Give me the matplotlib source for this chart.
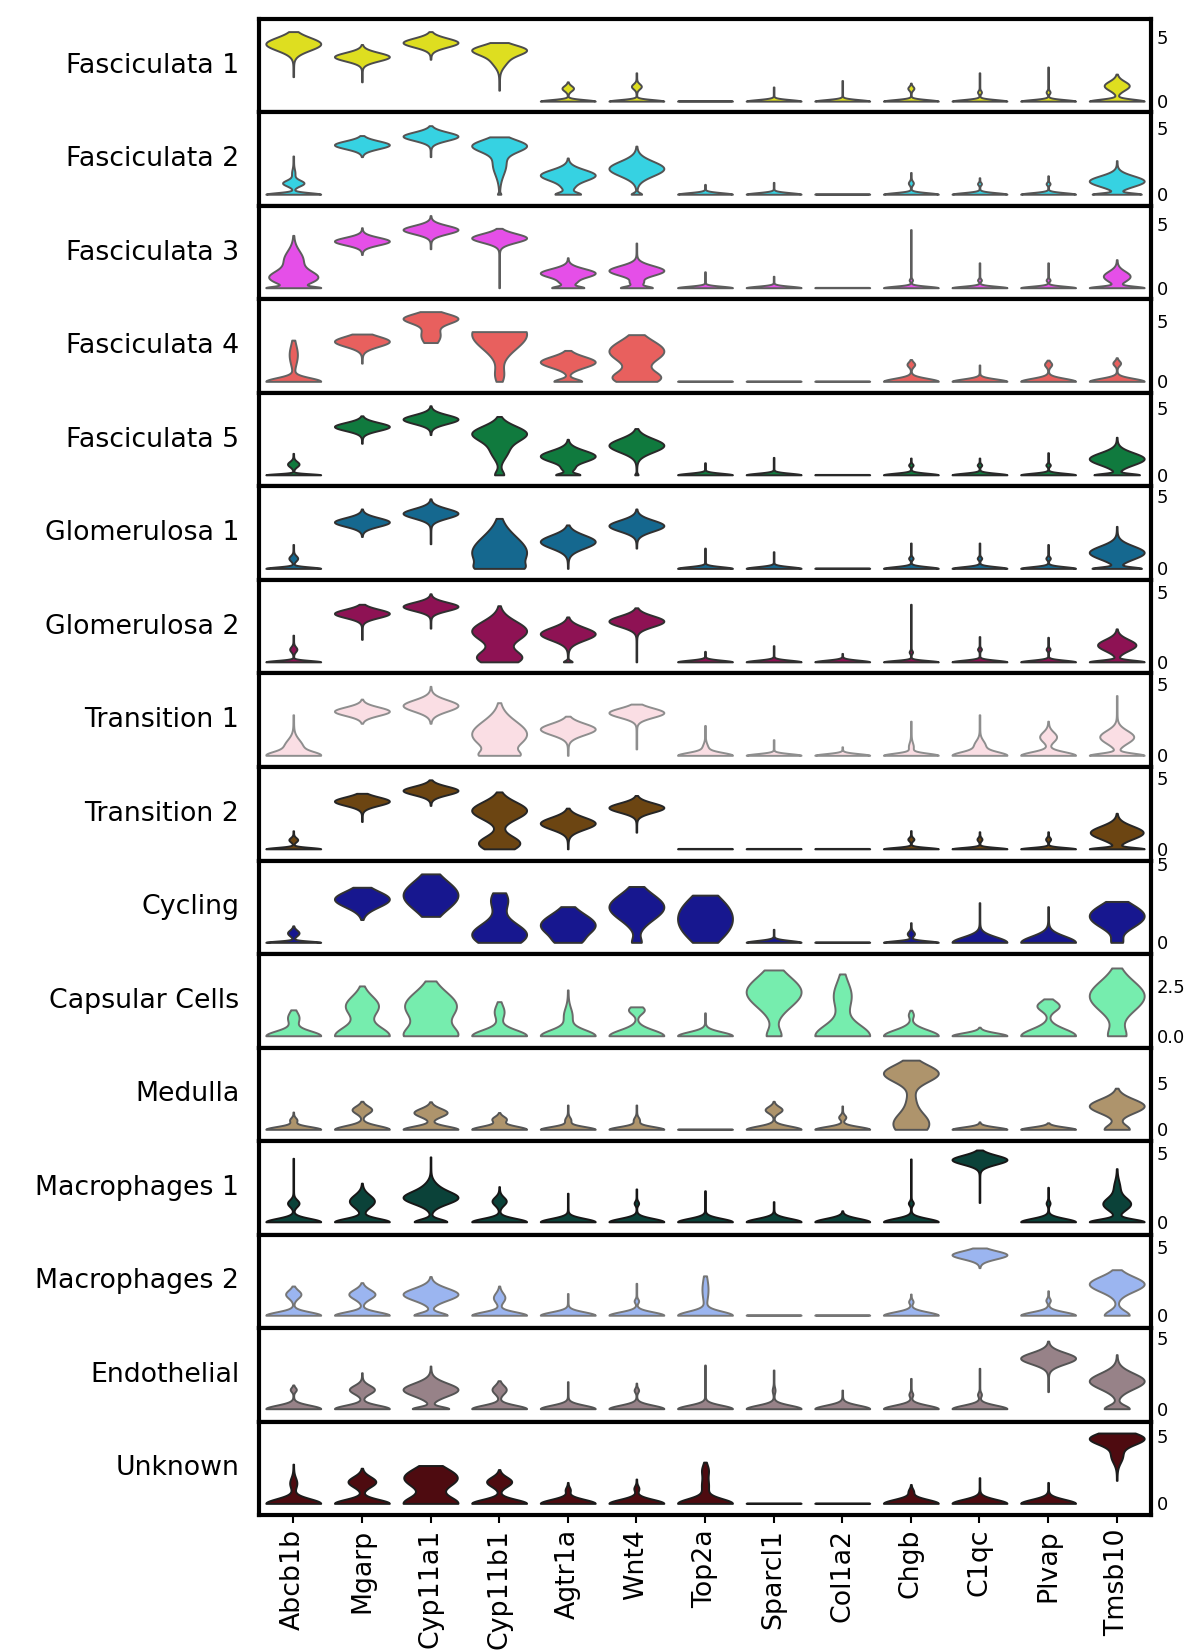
import colorsys
import numpy as np
import matplotlib
matplotlib.use("Agg")
import matplotlib.pyplot as plt
import matplotlib.colors as mcolors

genes = ["Abcb1b", "Mgarp", "Cyp11a1", "Cyp11b1", "Agtr1a", "Wnt4", "Top2a",
         "Sparcl1", "Col1a2", "Chgb", "C1qc", "Plvap", "Tmsb10"]

cell_types = ["Fasciculata 1", "Fasciculata 2", "Fasciculata 3", "Fasciculata 4",
              "Fasciculata 5", "Glomerulosa 1", "Glomerulosa 2", "Transition 1",
              "Transition 2", "Cycling", "Capsular Cells", "Medulla",
              "Macrophages 1", "Macrophages 2", "Endothelial", "Unknown"]

row_colors = ["#dede20", "#36d2e2", "#e54fe8", "#e8605e", "#107a3e", "#15688f",
              "#8e1254", "#fadee4", "#6c4512", "#17178f", "#76edae", "#ae946c",
              "#0b4239", "#9bb5f0", "#978288", "#4e0b10"]

# each violin: (min, max, [(mode, spread, weight), ...])
FLAT = (0, 0.03, [(0, 0.12, 1)])

fasc1 = [(1.9, 5.4, [(4.45, 0.5, 1)]),
         (1.5, 4.4, [(3.45, 0.33, 1)]),
         (3.25, 5.4, [(4.55, 0.35, 1)]),
         (0.85, 4.55, [(4.0, 0.38, 1), (3.2, 0.5, 0.3)]),
         (0, 1.5, [(0, 0.12, 1), (1.0, 0.2, 0.2)]),
         (0, 2.2, [(0, 0.12, 1), (1.15, 0.2, 0.17)]),
         FLAT,
         (0, 1.1, [(0, 0.12, 1)]),
         (0, 1.6, [(0, 0.12, 1)]),
         (0, 1.4, [(0, 0.12, 1), (1.0, 0.15, 0.1)]),
         (0, 2.2, [(0, 0.12, 1), (0.7, 0.12, 0.06)]),
         (0, 2.65, [(0, 0.12, 1), (0.7, 0.12, 0.06)]),
         (0, 2.1, [(0, 0.15, 1), (1.2, 0.35, 0.45)])]

fasc2 = [(0, 2.9, [(0, 0.12, 1), (0.85, 0.22, 0.38), (1.6, 0.3, 0.05)]),
         (2.85, 4.45, [(3.75, 0.3, 1)]),
         (2.85, 5.2, [(4.4, 0.32, 1)]),
         (0, 4.35, [(3.7, 0.45, 1), (2.3, 0.8, 0.25), (0, 0.1, 0.05)]),
         (0, 2.75, [(1.45, 0.42, 1), (0, 0.15, 0.42), (0.5, 0.3, 0.15)]),
         (0, 3.65, [(1.95, 0.55, 1), (0, 0.12, 0.18)]),
         (0, 0.75, [(0, 0.12, 1)]),
         (0, 0.9, [(0, 0.12, 1)]),
         FLAT,
         (0, 1.65, [(0, 0.12, 1), (0.85, 0.15, 0.08)]),
         (0, 1.25, [(0, 0.12, 1), (0.8, 0.1, 0.06)]),
         (0, 1.4, [(0, 0.12, 1), (0.8, 0.1, 0.06)]),
         (0, 2.55, [(1.0, 0.4, 1), (0, 0.1, 0.85)])]

fasc3 = [(0, 4.1, [(0.8, 0.5, 1), (2.2, 0.7, 0.4), (0, 0.1, 0.9)]),
         (2.6, 4.7, [(3.65, 0.3, 1)]),
         (3.05, 5.65, [(4.55, 0.33, 1)]),
         (0, 4.65, [(3.9, 0.35, 1)]),
         (0, 2.35, [(1.15, 0.35, 1), (0, 0.12, 0.55), (0.4, 0.2, 0.2)]),
         (0, 3.5, [(1.35, 0.38, 1), (0, 0.12, 0.55), (0.4, 0.2, 0.2)]),
         (0, 1.25, [(0, 0.12, 1)]),
         (0, 0.9, [(0, 0.12, 1)]),
         FLAT,
         (0, 4.55, [(0, 0.12, 1), (0.6, 0.1, 0.05)]),
         (0, 1.95, [(0, 0.12, 1), (0.6, 0.1, 0.06)]),
         (0, 1.95, [(0, 0.12, 1), (0.6, 0.1, 0.06)]),
         (0, 2.2, [(0.9, 0.4, 0.5), (0, 0.12, 1)])]

fasc4 = [(0, 3.4, [(0, 0.3, 1), (2.2, 0.8, 0.14)]),
         (1.5, 3.9, [(3.3, 0.42, 1)]),
         (3.2, 5.75, [(5.2, 0.4, 1), (3.8, 0.7, 0.36)]),
         (0, 4.1, [(3.9, 1.2, 1), (0.5, 0.6, 0.14)]),
         (0, 2.55, [(1.6, 0.45, 1), (0, 0.2, 0.5)]),
         (0, 3.85, [(2.5, 0.85, 1), (0.3, 0.55, 0.85)]),
         FLAT, FLAT, FLAT,
         (0, 1.8, [(0, 0.25, 1), (1.4, 0.2, 0.13)]),
         (0, 1.35, [(0, 0.2, 1)]),
         (0, 1.75, [(0, 0.25, 1), (1.4, 0.2, 0.12)]),
         (0, 1.95, [(0, 0.25, 1), (1.5, 0.2, 0.13)])]

fasc5 = [(0, 1.6, [(0, 0.08, 1), (0.8, 0.2, 0.2)]),
         (2.35, 4.4, [(3.6, 0.3, 1)]),
         (3.0, 5.15, [(4.15, 0.33, 1)]),
         (0, 4.35, [(3.1, 0.55, 1), (1.8, 0.6, 0.3), (0, 0.3, 0.16)]),
         (0, 2.65, [(1.4, 0.42, 1), (0, 0.12, 0.42), (0.45, 0.2, 0.15)]),
         (0, 3.45, [(2.2, 0.5, 1), (0, 0.1, 0.05)]),
         (0, 0.9, [(0, 0.12, 1)]),
         (0, 1.3, [(0, 0.12, 1)]),
         FLAT,
         (0, 1.25, [(0, 0.12, 1), (0.73, 0.1, 0.07)]),
         (0, 1.25, [(0, 0.12, 1), (0.73, 0.1, 0.07)]),
         (0, 1.65, [(0, 0.12, 1), (0.73, 0.1, 0.07)]),
         (0, 2.8, [(1.2, 0.45, 1), (0, 0.1, 0.8)])]

glom1 = [(0, 1.65, [(0, 0.1, 1), (0.7, 0.18, 0.15)]),
         (2.2, 4.1, [(3.2, 0.3, 1)]),
         (1.7, 4.8, [(3.8, 0.33, 1)]),
         (0, 3.45, [(1.1, 1.1, 1), (0, 0.3, 0.3)]),
         (0, 3.0, [(1.85, 0.45, 1)]),
         (1.4, 4.1, [(2.95, 0.38, 1)]),
         (0, 1.4, [(0, 0.12, 1)]),
         (0, 1.15, [(0, 0.12, 1)]),
         FLAT,
         (0, 1.75, [(0, 0.12, 1), (0.7, 0.1, 0.07)]),
         (0, 1.75, [(0, 0.12, 1), (0.7, 0.1, 0.07)]),
         (0, 1.65, [(0, 0.12, 1), (0.7, 0.1, 0.07)]),
         (0, 2.9, [(1.1, 0.45, 1), (0, 0.1, 0.85)])]

glom2 = [(0, 1.9, [(0, 0.1, 1), (0.9, 0.18, 0.12)]),
         (1.6, 4.1, [(3.45, 0.3, 1)]),
         (2.4, 4.85, [(3.95, 0.3, 1)]),
         (0, 4.0, [(2.2, 0.7, 1), (0.3, 0.5, 0.8)]),
         (0, 3.2, [(2.0, 0.45, 1), (0, 0.1, 0.15)]),
         (0, 3.85, [(2.9, 0.38, 1)]),
         (0, 0.75, [(0, 0.12, 1)]),
         (0, 1.15, [(0, 0.12, 1)]),
         (0, 0.6, [(0, 0.12, 1)]),
         (0, 4.1, [(0, 0.1, 1), (0.7, 0.1, 0.05)]),
         (0, 1.8, [(0, 0.12, 1), (0.9, 0.1, 0.06)]),
         (0, 1.75, [(0, 0.12, 1), (0.9, 0.1, 0.06)]),
         (0, 2.35, [(1.2, 0.4, 0.7), (0, 0.12, 1)])]

trans1 = [(0, 2.85, [(0, 0.25, 1), (0.6, 0.5, 0.4)]),
          (2.25, 3.95, [(3.1, 0.3, 1)]),
          (2.25, 4.85, [(3.5, 0.4, 1)]),
          (0, 3.7, [(1.5, 0.9, 1), (0, 0.3, 0.5)]),
          (0, 2.75, [(1.85, 0.4, 1)]),
          (0.45, 3.6, [(3.0, 0.33, 1)]),
          (0, 2.1, [(0, 0.2, 1), (0.5, 0.3, 0.1)]),
          (0, 1.1, [(0, 0.12, 1)]),
          (0, 0.6, [(0, 0.12, 1)]),
          (0, 2.4, [(0, 0.15, 1), (0.6, 0.3, 0.08)]),
          (0, 2.85, [(0, 0.25, 1), (0.7, 0.35, 0.2)]),
          (0, 2.4, [(0, 0.25, 1), (1.3, 0.35, 0.3)]),
          (0, 4.2, [(0, 0.15, 1), (1.3, 0.45, 0.62)])]

trans2 = [(0, 1.27, [(0, 0.1, 1), (0.64, 0.15, 0.15)]),
          (1.92, 3.9, [(3.35, 0.3, 1)]),
          (3.05, 4.85, [(4.1, 0.3, 1)]),
          (0, 4.0, [(2.7, 0.6, 1), (0.4, 0.5, 0.75)]),
          (0, 2.86, [(1.8, 0.42, 1)]),
          (1.17, 3.75, [(2.9, 0.33, 1)]),
          FLAT, FLAT, FLAT,
          (0, 1.28, [(0, 0.1, 1), (0.68, 0.12, 0.1)]),
          (0, 1.2, [(0, 0.1, 1), (0.68, 0.12, 0.08)]),
          (0, 1.2, [(0, 0.1, 1), (0.68, 0.12, 0.08)]),
          (0, 2.5, [(1.15, 0.45, 0.9), (0, 0.1, 0.9)])]

cycling = [(0, 1.05, [(0, 0.08, 1), (0.6, 0.18, 0.2)]),
           (1.45, 3.5, [(2.75, 0.5, 1)]),
           (1.65, 4.35, [(3.0, 0.9, 1)]),
           (0, 3.15, [(0.5, 0.7, 1), (2.7, 0.6, 0.3)]),
           (0, 2.27, [(1.1, 0.7, 1), (0, 0.3, 0.2)]),
           (0, 3.55, [(2.25, 0.8, 1), (0, 0.3, 0.15)]),
           (0, 3.0, [(0.6, 0.8, 1), (1.5, 0.8, 1), (2.4, 0.8, 1)]),
           (0, 0.83, [(0, 0.12, 1)]),
           FLAT,
           (0, 1.25, [(0, 0.1, 1), (0.55, 0.15, 0.12)]),
           (0, 2.52, [(0, 0.35, 1)]),
           (0, 2.27, [(0, 0.4, 1)]),
           (0, 2.6, [(1.5, 0.6, 1), (2.2, 0.5, 0.4), (0, 0.3, 0.2)])]

capsular = [(0, 1.3, [(0, 0.25, 1), (0.9, 0.3, 0.2)]),
            (0, 2.5, [(1.5, 0.5, 0.6), (0, 0.45, 1)]),
            (0, 2.75, [(1.5, 0.7, 1), (0, 0.45, 0.95)]),
            (0, 1.71, [(0, 0.3, 1), (1.2, 0.35, 0.17)]),
            (0, 2.3, [(0, 0.3, 1), (1.0, 0.4, 0.15)]),
            (0, 1.45, [(0, 0.3, 1), (1.3, 0.2, 0.28)]),
            (0, 1.15, [(0, 0.2, 1)]),
            (0, 3.3, [(2.2, 0.75, 1), (0, 0.35, 0.25)]),
            (0, 3.1, [(0, 0.55, 1), (2.0, 0.7, 0.32)]),
            (0, 1.28, [(0, 0.3, 1), (1.05, 0.15, 0.08)]),
            (0, 0.43, [(0, 0.15, 1)]),
            (0, 1.85, [(0, 0.35, 1), (1.5, 0.25, 0.4)]),
            (0, 3.4, [(2.0, 0.75, 1), (0, 0.4, 0.3)])]

medulla = [(0, 1.85, [(0, 0.3, 1), (1.0, 0.25, 0.12)]),
           (0, 3.0, [(0, 0.4, 1), (2.1, 0.4, 0.35)]),
           (0, 2.95, [(0, 0.35, 1), (1.8, 0.45, 0.6)]),
           (0, 1.8, [(0, 0.35, 1), (1.1, 0.3, 0.25)]),
           (0, 2.6, [(0, 0.3, 1), (1.0, 0.3, 0.1)]),
           (0, 2.6, [(0, 0.3, 1), (1.0, 0.3, 0.1)]),
           FLAT,
           (0, 3.0, [(0, 0.35, 1), (2.1, 0.35, 0.3)]),
           (0, 2.5, [(0, 0.3, 1), (1.3, 0.25, 0.12)]),
           (0, 7.4, [(6.0, 0.9, 1), (0.6, 1.2, 0.65), (3.3, 0.8, 0.1)]),
           (0, 0.8, [(0, 0.25, 1)]),
           (0, 0.7, [(0, 0.25, 1)]),
           (0, 4.4, [(2.5, 0.75, 1), (0, 0.5, 0.45)])]

mac1 = [(0, 4.6, [(0, 0.25, 1), (1.35, 0.25, 0.2)]),
        (0, 2.8, [(0, 0.25, 1), (1.5, 0.45, 0.45)]),
        (0, 4.7, [(1.75, 0.45, 1), (2.6, 0.4, 0.15), (0, 0.2, 0.6)]),
        (0, 2.55, [(0, 0.25, 1), (1.5, 0.3, 0.25)]),
        (0, 2.07, [(0, 0.25, 1)]),
        (0, 2.38, [(0, 0.25, 1), (1.35, 0.15, 0.07)]),
        (0, 2.25, [(0, 0.25, 1)]),
        (0, 1.46, [(0, 0.25, 1)]),
        (0, 0.8, [(0, 0.25, 1)]),
        (0, 4.55, [(0, 0.25, 1), (1.35, 0.15, 0.08)]),
        (1.4, 5.2, [(4.5, 0.33, 1)]),
        (0, 2.5, [(0, 0.25, 1), (1.35, 0.15, 0.06)]),
        (0, 3.85, [(0, 0.2, 1), (1.3, 0.45, 0.5), (2.5, 0.5, 0.1)])]

mac2 = [(0, 2.15, [(0, 0.25, 1), (1.55, 0.3, 0.27)]),
        (0, 2.4, [(0, 0.25, 1), (1.55, 0.35, 0.47)]),
        (0, 2.85, [(1.55, 0.45, 1), (0, 0.2, 0.6)]),
        (0, 2.15, [(0, 0.25, 1), (1.3, 0.35, 0.2)]),
        (0, 1.6, [(0, 0.25, 1)]),
        (0, 2.35, [(0, 0.25, 1), (1.05, 0.15, 0.07)]),
        (0, 2.9, [(0, 0.3, 1), (1.9, 0.8, 0.1)]),
        FLAT, FLAT,
        (0, 1.56, [(0, 0.25, 1), (1.0, 0.15, 0.07)]),
        (3.5, 4.95, [(4.45, 0.3, 1)]),
        (0, 1.8, [(0, 0.25, 1), (1.1, 0.15, 0.07)]),
        (0, 3.35, [(2.3, 0.55, 1), (0, 0.35, 0.45)])]

endothelial = [(0, 1.67, [(0, 0.25, 1), (1.35, 0.15, 0.1)]),
               (0, 2.53, [(0, 0.25, 1), (1.35, 0.3, 0.45)]),
               (0, 3.0, [(1.35, 0.45, 1), (0, 0.15, 0.65)]),
               (0, 1.97, [(0, 0.25, 1), (1.35, 0.3, 0.25)]),
               (0, 1.9, [(0, 0.25, 1)]),
               (0, 1.8, [(0, 0.25, 1), (1.3, 0.15, 0.07)]),
               (0, 3.07, [(0, 0.25, 1)]),
               (0, 2.72, [(0, 0.25, 1), (1.3, 0.2, 0.04)]),
               (0, 1.31, [(0, 0.25, 1)]),
               (0, 2.13, [(0, 0.25, 1), (1.0, 0.15, 0.06)]),
               (0, 2.84, [(0, 0.25, 1), (1.0, 0.15, 0.06)]),
               (1.2, 4.75, [(3.55, 0.4, 1)]),
               (0, 3.8, [(1.95, 0.55, 1), (0, 0.25, 0.45)])]

unknown = [(0, 2.9, [(0, 0.35, 1), (1.5, 0.4, 0.12)]),
           (0, 2.6, [(0, 0.3, 1), (1.6, 0.38, 0.5)]),
           (0, 2.8, [(1.9, 0.7, 1), (0, 0.5, 1)]),
           (0, 2.5, [(0, 0.3, 1), (1.6, 0.35, 0.45)]),
           (0, 1.55, [(0, 0.3, 1), (1.0, 0.2, 0.08)]),
           (0, 1.8, [(0, 0.3, 1), (1.1, 0.2, 0.08)]),
           (0, 3.05, [(0, 0.35, 1), (2.5, 0.4, 0.1), (1.3, 0.6, 0.12)]),
           FLAT, FLAT,
           (0, 1.4, [(0, 0.3, 1), (0.9, 0.2, 0.08)]),
           (0, 1.9, [(0, 0.3, 1)]),
           (0, 1.55, [(0, 0.3, 1)]),
           (1.7, 5.2, [(4.8, 0.45, 1), (3.5, 0.5, 0.2)])]

rows = [fasc1, fasc2, fasc3, fasc4, fasc5, glom1, glom2, trans1, trans2,
        cycling, capsular, medulla, mac1, mac2, endothelial, unknown]

row_ylim = [(-0.88, 6.38), (-0.89, 6.2), (-0.92, 6.4), (-0.96, 6.75),
            (-0.87, 6.1), (-0.8, 5.65), (-0.83, 5.83), (-0.82, 5.75),
            (-0.82, 5.75), (-0.74, 5.2), (-0.59, 4.1), (-1.25, 8.75),
            (-0.92, 5.85), (-0.94, 5.94), (-0.9, 5.67), (-0.86, 6.05)]
row_ticks = [[0, 5]] * 10 + [[0.0, 2.5]] + [[0, 5]] * 5
row_ticklabels = [["0", "5"]] * 10 + [["0.0", "2.5"]] + [["0", "5"]] * 5


#turns a violin description into the stats dict matplotlib's violin() wants
def violin_stats(lo, hi, comps):
    y = np.linspace(lo, hi, 200)
    dens = np.zeros_like(y)
    for mu, sd, amp in comps:
        dens += amp * np.exp(-0.5 * ((y - mu) / sd) ** 2)
    dens += 0.012 * dens.max()
    mean = np.sum(y * dens) / np.sum(dens)
    return {"coords": y, "vals": dens, "mean": mean, "median": mean,
            "min": lo, "max": hi}


#seaborn style outline: a gray from the fill lightness
def edge_gray(color):
    r, g, b = mcolors.to_rgb(color)
    lum = colorsys.rgb_to_hls(r, g, b)[1] * 0.6
    return (lum, lum, lum)


fig, axes = plt.subplots(len(rows), 1, figsize=(11.95, 16.5), dpi=100)
fig.subplots_adjust(left=0.2167, right=0.9632, top=0.9885, bottom=0.0818, hspace=0)

for i, ax in enumerate(axes):
    stats = [violin_stats(*v) for v in rows[i]]
    parts = ax.violin(stats, positions=np.arange(len(genes)), widths=0.8,
                      showmeans=False, showextrema=False, showmedians=False)
    for body in parts["bodies"]:
        body.set_facecolor(row_colors[i])
        body.set_edgecolor(edge_gray(row_colors[i]))
        body.set_linewidth(1.4)
        body.set_alpha(1)
    ax.set_xlim(-0.5, len(genes) - 0.5)
    ax.set_ylim(*row_ylim[i])
    ax.yaxis.tick_right()
    ax.set_yticks(row_ticks[i])
    ax.set_yticklabels(row_ticklabels[i])
    ax.tick_params(axis="y", labelsize=13, length=0, pad=4)
    for sp in ax.spines.values():
        sp.set_linewidth(3)
        sp.set_color("black")
    ax.text(-0.022, 0.5, cell_types[i], transform=ax.transAxes,
            ha="right", va="center", fontsize=19.3)
    if i < len(rows) - 1:
        ax.set_xticks([])
    else:
        ax.set_xticks(np.arange(len(genes)))
        ax.set_xticklabels(genes, rotation=90, fontsize=19.3)
        ax.tick_params(axis="x", length=6, width=1.5, pad=4)

fig.savefig("out.png", dpi=100)
